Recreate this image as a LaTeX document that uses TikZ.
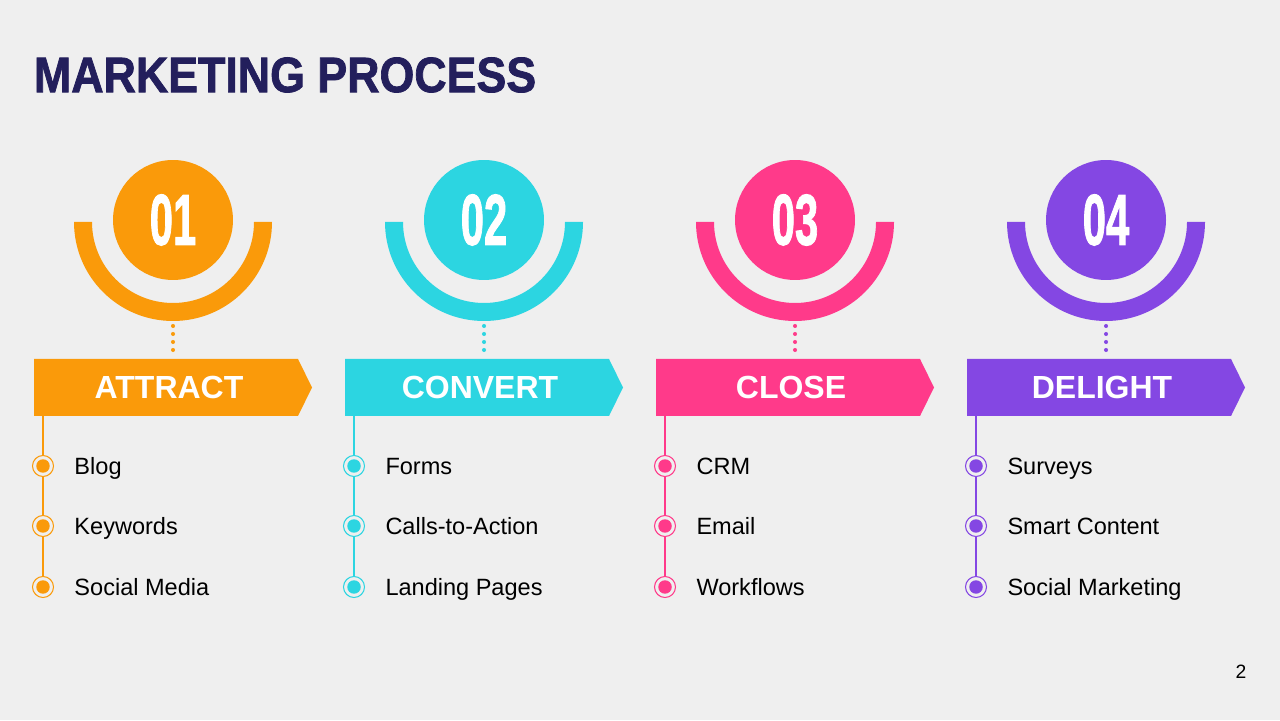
\documentclass[tikz,border=0pt]{standalone}
\usepackage{fontspec}
\setmainfont{Liberation Sans}
\newfontfamily\heavyfont{Liberation Sans Bold}[FakeBold=1.6]
\usetikzlibrary{positioning}

\definecolor{bgGray}{HTML}{EFEFEF}
\definecolor{titleBlue}{HTML}{231F5C}
\definecolor{stepOrange}{HTML}{FA9A0A}
\definecolor{stepCyan}{HTML}{2CD5E1}
\definecolor{stepPink}{HTML}{FF3A8A}
\definecolor{stepPurple}{HTML}{8447E3}

\begin{document}
\begin{tikzpicture}[x=0.02cm,y=0.02cm]
        \tikzstyle{every node}=[inner sep=0pt, outer sep=0pt]
        \tikzstyle{numdisc}=[circle, minimum size=2.4cm, text=white, font=\fontsize{41}{41}\heavyfont]
        \tikzstyle{bandtext}=[text=white, font=\fontsize{18.2}{18.2}\selectfont\bfseries, text height=13pt, text depth=0pt]
        \tikzstyle{itemtext}=[anchor=west, font=\fontsize{13.4}{13.4}\selectfont, text height=9.6pt, text depth=0pt]
        \tikzstyle{dotline}=[line width=2.3pt, line cap=round, dash pattern=on 0pt off 0.16cm]
        \fill[bgGray] (0,0) rectangle (1280,720);
        \useasboundingbox (0,0) rectangle (1280,720);
        \node[anchor=west, text=titleBlue, font=\fontsize{28.3}{28.3}\heavyfont] (title) at (34,645) {\scalebox{0.9}[1]{MARKETING PROCESS}};
        \foreach \i/\col/\num/\name/\a/\b/\c in {1/stepOrange/01/ATTRACT/Blog/Keywords/Social Media,
                2/stepCyan/02/CONVERT/Forms/Calls-to-Action/Landing Pages,
                3/stepPink/03/CLOSE/CRM/Email/Workflows,
                4/stepPurple/04/DELIGHT/Surveys/Smart Content/Social Marketing}
        {
            \pgfmathsetmacro\cx{173+311*(\i-1)}
            % number disc and half ring
            \node[numdisc, fill=\col] (num\i) at (\cx,500) {\scalebox{0.58}[1]{\num}};
            \fill[\col] (\cx-99,498) arc[start angle=180, end angle=360, radius=99]
                -- (\cx+81,498) arc[start angle=0, end angle=-180, radius=81] -- cycle;
            % banner
            \fill[\col] (\cx-139,361) -- (\cx+125,361) -- (\cx+139,332.5) -- (\cx+125,304) -- (\cx-139,304) -- cycle;
            \node[bandtext] (band\i) at (\cx-4,332.5) {\name};
            \coordinate (ringbot\i) at (\cx,394);
            \coordinate (bandtop\i) at (\cx,363);
            \draw[dotline, \col] (ringbot\i) -- (bandtop\i);
            % list
            \coordinate (stem\i) at (\cx-130,304);
            \tikzstyle{bullet}=[circle, draw=\col, line width=0.6pt, fill=bgGray, minimum size=0.42cm,
                path picture={\fill[\col] (path picture bounding box.center) circle (0.135cm);}]
            \draw[\col, line width=0.85pt] (stem\i) -- (\cx-130,133);
            \node[bullet] (dot\i-1) at (\cx-130,254) {};
            \node[bullet] (dot\i-2) at (\cx-130,194) {};
            \node[bullet] (dot\i-3) at (\cx-130,133) {};
            \node[itemtext, right=0.42cm of dot\i-1] (item\i-1) {\a};
            \node[itemtext, right=0.42cm of dot\i-2] (item\i-2) {\b};
            \node[itemtext, right=0.42cm of dot\i-3] (item\i-3) {\c};
        }
        \node[font=\fontsize{11}{11}\selectfont] (pagenum) at (1241,48) {2};
    \end{tikzpicture}
\end{document}
